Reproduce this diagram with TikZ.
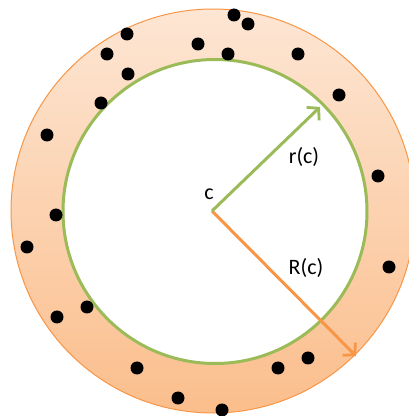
\documentclass[tikz,border=0pt]{standalone}
\usepackage{fontspec}
\setmainfont{Carlito}
\usepackage{tikz}
\usetikzlibrary{arrows.meta}

\definecolor{ringedge}{HTML}{F79646}
\definecolor{ringtop}{HTML}{FDE6D4}
\definecolor{ringbottom}{HTML}{FBBE8C}
\definecolor{innergreen}{HTML}{9BBB59}

\tikzset{
  pointdot/.style={circle,fill=black,inner sep=0pt,minimum size=13pt},
  radiuslabel/.style={font=\fontsize{22}{24}\selectfont,inner sep=1pt},
  radarrow/.style={line width=3pt,-{Straight Barb[length=8pt,width=18pt,line width=2.8pt]}}
}

\begin{document}
\begin{tikzpicture}[x=1pt,y=1pt]
    \useasboundingbox (0,0) rectangle (409,416);
    % Outer ring
    \shade[top color=ringtop,bottom color=ringbottom,draw=ringedge,line width=1pt]
        (213,205) circle[radius=202];
    % Inner disc
    \draw[innergreen,fill=white,line width=3pt] (215,204.5) circle[radius=152];

    % Sample points
    \foreach \px/\py [count=\i] in {234/401,248/392,127/382,198/372,228/362,298/362,
        107/362,128/342,101/313,339/321,47/281,378/240,56/201,27/169,389/149,
        87/109,57/99,137/48,278/48,308/58,178/18,222/6}
        \node[pointdot] (p\i) at (\px,\py) {};

    % Centre and radii
    \coordinate (c) at (212,205);
    \coordinate (rin) at (320,309);
    \coordinate (rout) at (356,60);
    \draw[radarrow,ringedge] (c) -- (rout);
    \draw[radarrow,innergreen] (c) -- (rin);

    \node[radiuslabel] (clabel) at (209,222) {c};
    \node[radiuslabel] (rlabel) at (304,259) {r(c)};
    \node[radiuslabel] (Rlabel) at (306,148) {R(c)};
\end{tikzpicture}
\end{document}
